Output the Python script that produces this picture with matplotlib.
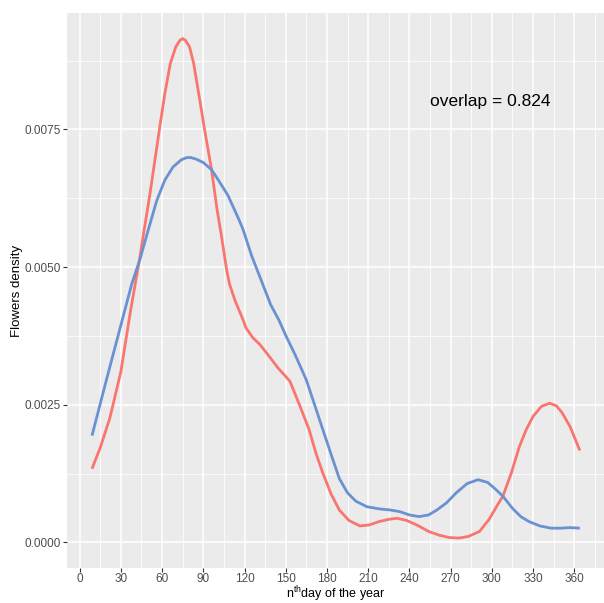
import matplotlib
matplotlib.use("Agg")
import matplotlib.pyplot as plt
from matplotlib.ticker import MultipleLocator, FormatStrFormatter

plt.rcParams['font.family'] = ['Liberation Sans', 'DejaVu Sans']
plt.rcParams['mathtext.fontset'] = 'custom'
plt.rcParams['mathtext.rm'] = 'Liberation Sans'

# density curves
red_days = [9, 15, 22, 30, 37, 44, 47, 51, 58, 62, 66, 70, 73, 75, 77, 80, 83, 87,
            91, 96, 100, 103, 107, 109, 113, 119, 121, 126, 131, 138, 144, 153,
            160, 167, 172, 177, 183, 189, 196, 204, 211, 218, 225, 231, 238, 246,
            254, 262, 269, 276, 283, 291, 298, 305, 308, 314, 320, 325, 330, 336,
            342, 347, 351, 357, 364]
red_dens = [0.00134, 0.00172, 0.00226, 0.00310, 0.00420, 0.00520, 0.00568, 0.00630,
            0.00749, 0.00815, 0.00870, 0.00900, 0.00912, 0.00915, 0.00912, 0.00900,
            0.00870, 0.00810, 0.00749, 0.00677, 0.00605, 0.00560, 0.00495, 0.00470,
            0.00440, 0.00404, 0.00390, 0.00372, 0.00360, 0.00338, 0.00318, 0.00293,
            0.00250, 0.00205, 0.00162, 0.00126, 0.00088, 0.00059, 0.00040, 0.00030,
            0.00032, 0.00038, 0.00042, 0.00044, 0.00040, 0.00031, 0.00020, 0.00013,
            0.00009, 0.00008, 0.00011, 0.00020, 0.00042, 0.00072, 0.00084, 0.00125,
            0.00174, 0.00205, 0.00229, 0.00247, 0.00253, 0.00248, 0.00236, 0.00210,
            0.00167]

blue_days = [9, 12, 20, 31, 38, 44, 50, 56, 62, 68, 74, 78, 81, 85, 90, 96, 101, 108,
             116, 119, 125, 132, 139, 145, 150, 157, 165, 171, 177, 183, 189, 195,
             201, 209, 218, 226, 233, 240, 247, 254, 260, 267, 274, 282, 290, 297,
             303, 308, 315, 321, 327, 335, 343, 350, 357, 364]
blue_dens = [0.00194, 0.00223, 0.00300, 0.00404, 0.00470, 0.00515, 0.00568, 0.00620,
             0.00658, 0.00682, 0.00695, 0.00699, 0.00699, 0.00696, 0.00690, 0.00677,
             0.00658, 0.00630, 0.00586, 0.00568, 0.00522, 0.00477, 0.00432, 0.00404,
             0.00376, 0.00340, 0.00295, 0.00250, 0.00205, 0.00160, 0.00116, 0.00090,
             0.00075, 0.00065, 0.00061, 0.00059, 0.00056, 0.00050, 0.00047, 0.00050,
             0.00059, 0.00072, 0.00090, 0.00107, 0.00114, 0.00109, 0.00096, 0.00084,
             0.00062, 0.00047, 0.00038, 0.00030, 0.00026, 0.00026, 0.00027, 0.00026]

overlap_text = "overlap = 0.824"

fig = plt.figure(figsize=(6.04, 6.03), dpi=100)
ax = fig.add_axes([66.7 / 604, 1 - 567.7 / 603, 1 - 66.7 / 604, (567.7 - 13.3) / 603])
ax.set_facecolor('#EBEBEB')
for s in ax.spines.values():
    s.set_visible(False)

ax.plot(red_days, red_dens, color='#F8766D', lw=2.0, solid_capstyle='butt', zorder=3)
ax.plot(blue_days, blue_dens, color='#6A91D1', lw=2.0, solid_capstyle='butt', zorder=3)

ax.set_xlim(-9.4, 381.6)
ax.set_ylim(-0.000458, 0.00961)
ax.xaxis.set_major_locator(MultipleLocator(30))
ax.xaxis.set_minor_locator(MultipleLocator(15))
ax.yaxis.set_major_locator(MultipleLocator(0.0025))
ax.yaxis.set_minor_locator(MultipleLocator(0.00125))
ax.yaxis.set_major_formatter(FormatStrFormatter('%.4f'))

ax.grid(which='major', color='white', lw=1.1)
ax.grid(which='minor', color='white', lw=0.55)
ax.set_axisbelow(True)

ax.tick_params(which='major', length=2.75, width=0.8, color='#333333',
               labelcolor='#4D4D4D', labelsize=8.5, pad=1.2)
ax.tick_params(which='minor', length=0)

ax.text(299, 0.0080, overlap_text, fontsize=12.5, ha='center', va='center', color='black')

# axis titles placed by hand so the x title stays inside the canvas
fig.text((66.7 + 604) / 2 / 604, 1 - 598.5 / 603, "n$^{\\mathrm{th}}$day of the year",
         fontsize=9, ha='center', va='baseline')
ax.set_ylabel("Flowers density", fontsize=9.5, labelpad=1)

fig.savefig("out.png", dpi=100)
